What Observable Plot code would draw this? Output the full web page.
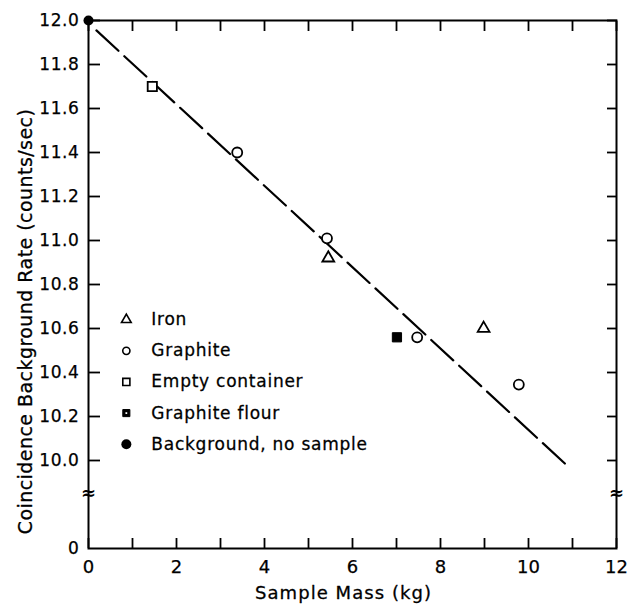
<!DOCTYPE html>
<html>
<head>
<meta charset="utf-8">
<script src="https://cdn.jsdelivr.net/npm/d3@7"></script>
<script src="https://cdn.jsdelivr.net/npm/@observablehq/plot@0.6"></script>
<style>
  html, body { margin: 0; padding: 0; background: #fff; }
  #chart { width: 633px; height: 607px; }
</style>
</head>
<body>
<div id="chart"></div>
<script>
// ---- data ----
const ironX = [5.45, 8.98];
const ironY = [10.92, 10.60];
const graphiteX = [3.38, 5.42, 7.47, 9.78];
const graphiteY = [11.40, 11.01, 10.56, 10.345];
const emptyX = [1.45];
const emptyY = [11.70];
const flourX = [7.01];
const flourY = [10.56];
const backgroundX = [0];
const backgroundY = [12.0];
const fitX = [0.18, 10.86];
const fitY = [11.955, 9.98];

const legendLabels = ["Iron", "Graphite", "Empty container", "Graphite flour", "Background, no sample"];
const legendSymbols = ["triangle", "circle", "square", "squareFilled", "circleFilled"];

const xMinorTicks = [0, 1, 2, 3, 4, 5, 6, 7, 8, 9, 10, 11, 12];
const xLabelTicks = [0, 2, 4, 6, 8, 10, 12];
const yTicks = [10.0, 10.2, 10.4, 10.6, 10.8, 11.0, 11.2, 11.4, 11.6, 11.8, 12.0];
const yZeroTick = 9.6;      // broken axis: the position standing for 0
const yBreak = 9.85;        // where the break marks sit
const xLabel = "Sample Mass (kg)";
const yLabel = "Coincidence Background Rate (counts/sec)";

const zip = (xs, ys) => xs.map((x, i) => ({x, y: ys[i]}));
const iron = zip(ironX, ironY);
const graphite = zip(graphiteX, graphiteY);
const empty = zip(emptyX, emptyY);
const flour = zip(flourX, flourY);
const background = zip(backgroundX, backgroundY);
const fit = zip(fitX, fitY);
const legend = legendLabels.map((label, i) => ({label, symbol: legendSymbols[i], i}));

const FONT = "DejaVu Sans, Liberation Sans, sans-serif";
const legX = 0.86;
const legY = i => 10.64 - i * 0.1415;
const legendSym = s => legend.filter(d => d.symbol === s);
const thick = {fill: "black", stroke: "black", strokeWidth: 0.28};

const chart = Plot.plot({
  width: 633,
  height: 607,
  marginLeft: 88,
  marginRight: 17,
  marginTop: 20,
  marginBottom: 59,
  style: {fontFamily: FONT, fontSize: "16px", background: "white", color: "black"},
  x: {domain: [0, 12]},
  y: {domain: [yZeroTick, 12]},
  marks: [
    Plot.frame({stroke: "black", strokeWidth: 2}),
    // bottom axis: minor inward ticks + labels
    Plot.axisX({anchor: "bottom", ticks: xMinorTicks, tickSize: -10, tickFormat: () => "", strokeWidth: 1.8, label: null}),
    Plot.axisX({anchor: "bottom", ticks: xLabelTicks, tickSize: 0, tickPadding: 12, tickFormat: d => String(d), fontSize: 18, label: null}),
    // top axis ticks
    Plot.axisX({anchor: "top", ticks: xMinorTicks, tickSize: -10, tickFormat: () => "", strokeWidth: 1.8, label: null}),
    // left axis
    Plot.axisY({anchor: "left", ticks: yTicks, tickSize: -12, tickFormat: () => "", strokeWidth: 1.8, label: null}),
    Plot.axisY({anchor: "left", ticks: [yZeroTick, ...yTicks], tickSize: 0, tickPadding: 9,
      tickFormat: d => d === yZeroTick ? "0" : d.toFixed(1), fontSize: 17, label: null}),
    // right axis
    Plot.axisY({anchor: "right", ticks: yTicks, tickSize: -10, tickFormat: () => "", strokeWidth: 1.8, label: null}),
    // axis break marks
    Plot.text([0, 12], {x: d => d, y: () => yBreak, text: () => "≈", fontSize: 18, fontWeight: "bold"}),
    // fitted line
    Plot.line(fit, {x: "x", y: "y", stroke: "black", strokeWidth: 2.2, strokeDasharray: "30,8"}),
    // data points
    Plot.dot(iron, {x: "x", y: "y", symbol: "triangle", r: 4.4, stroke: "black", strokeWidth: 1.8, fill: "white"}),
    Plot.dot(graphite, {x: "x", y: "y", symbol: "circle", r: 5, stroke: "black", strokeWidth: 1.8, fill: "white"}),
    Plot.dot(empty, {x: "x", y: "y", symbol: "square", r: 5.2, stroke: "black", strokeWidth: 1.8, fill: "white"}),
    Plot.dot(flour, {x: "x", y: "y", symbol: "square", r: 5.2, fill: "black", stroke: "black", strokeWidth: 1}),
    Plot.dot(background, {x: "x", y: "y", symbol: "circle", r: 5, fill: "black"}),
    // legend
    Plot.dot(legendSym("triangle"), {x: () => legX, y: d => legY(d.i), symbol: "triangle", r: 3.6, stroke: "black", strokeWidth: 1.6, fill: "white"}),
    Plot.dot(legendSym("circle"), {x: () => legX, y: d => legY(d.i), symbol: "circle", r: 3.6, stroke: "black", strokeWidth: 1.6, fill: "white"}),
    Plot.dot(legendSym("square"), {x: () => legX, y: d => legY(d.i), symbol: "square", r: 4, stroke: "black", strokeWidth: 1.6, fill: "white"}),
    Plot.dot(legendSym("squareFilled"), {x: () => legX, y: d => legY(d.i), symbol: "square", r: 4, stroke: "black", strokeWidth: 1, fill: "black"}),
    Plot.dot(legendSym("squareFilled"), {x: () => legX, y: d => legY(d.i), symbol: "square", r: 1, fill: "white"}),
    Plot.dot(legendSym("circleFilled"), {x: () => legX, y: d => legY(d.i), symbol: "circle", r: 5, fill: "black"}),
    Plot.text(legend, {x: () => legX, y: d => legY(d.i), text: "label", dx: 25, textAnchor: "start", fontSize: 17, ...thick}),
    // axis titles
    Plot.text([xLabel], {frameAnchor: "bottom", dy: 50, dx: -9, fontSize: 18, textAnchor: "middle", ...thick}),
    Plot.text([yLabel], {frameAnchor: "left", rotate: -90, dx: -63, dy: 37, fontSize: 19, textAnchor: "middle", ...thick})
  ]
});
// letter spacing for the lettering-style texts (legend, x title, y title)
const textGroups = d3.select(chart).selectAll('g[aria-label="text"]').nodes();
const spacing = [null, "0.75px", "1.05px", "0.45px"];
textGroups.forEach((g, i) => { if (spacing[i]) d3.select(g).selectAll("text").attr("letter-spacing", spacing[i]); });
d3.select(chart).selectAll('g[aria-label="y-axis tick label"] text').attr("letter-spacing", "0.6px");
d3.select(chart).selectAll('g[aria-label="y-axis tick label"] text, g[aria-label="x-axis tick label"] text')
  .attr("stroke", "black").attr("stroke-width", 0.25);
document.getElementById("chart").appendChild(chart);
</script>
</body>
</html>
